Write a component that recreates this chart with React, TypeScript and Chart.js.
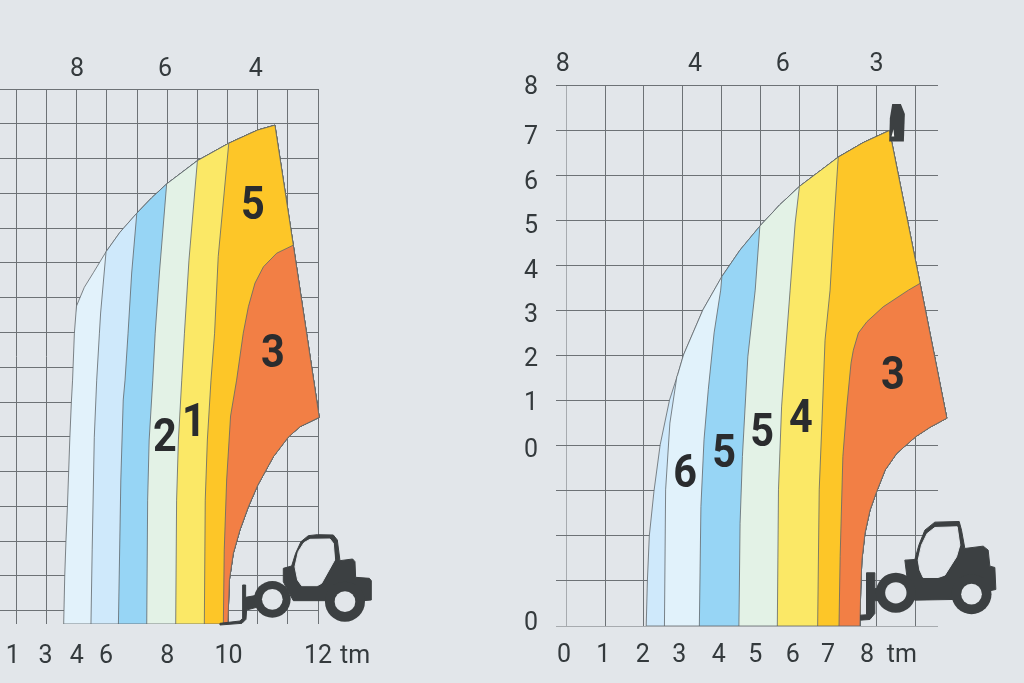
import React, { useEffect, useRef } from "react";
import { Chart, registerables } from "chart.js";

Chart.register(...registerables);

type P = [number, number];

const BG = "#e2e6ea";
const bandColorsLeft = ["#e2f2fb", "#cfe9fb", "#97d5f5", "#e3f2e6", "#fbe866", "#fdc628", "#f27f45"];
const bandColorsRight = ["#cfe9fb", "#e1f2fb", "#97d5f5", "#e3f2e6", "#fbe866", "#fdc628", "#f27f45"];

/* ---- left diagram, values in grid divisions ---- */
const leftEnvelope: P[] = [[1.565,-0.38],[1.6,1],[1.64,2],[1.69,3.01],[1.73,3.99],[1.77,4.99],[1.82,6],[1.86,6.63],[1.92,7.98],[1.99,8.76],[2.25,9.3],[2.55,9.72],[2.97,10.32],[3.43,10.88],[3.99,11.43],[4.48,11.87],[4.98,12.27],[6,12.94],[7.04,13.44],[8,13.82],[8.57,13.96]];
const leftRightEdge: P[] = [[9.18,10.51],[10.04,5.56]];
const leftLower: P[] = [[9.4,5.29],[9.01,4.99],[8.52,4.43],[8,3.61],[7.69,2.99],[7.41,2.32],[7.19,1.65],[7.06,0.88],[7.01,-0.38]];
const leftBoundaryA: P[] = [[2.47,-0.38],[2.51,1.75],[2.58,4.99],[2.66,6.63],[2.75,7.98],[2.79,8.56],[2.97,10.32]];
const leftBoundaryB: P[] = [[3.38,-0.38],[3.46,3.76],[3.54,6.06],[3.6,6.63],[3.7,7.98],[3.82,9.71],[3.99,11.43]];
const leftBoundaryC: P[] = [[4.32,-0.38],[4.35,3.18],[4.4,4.91],[4.52,6.63],[4.6,7.98],[4.74,9.71],[4.98,12.27]];
const leftBoundaryD: P[] = [[5.28,-0.38],[5.31,3.18],[5.37,4.91],[5.48,6.63],[5.57,7.98],[5.72,10.08],[6,12.94]];
const leftBoundaryE: P[] = [[6.23,-0.38],[6.26,3.18],[6.33,4.91],[6.45,6.63],[6.57,7.98],[6.69,10.18],[7.04,13.44]];
const leftBoundaryF: P[] = [[6.86,-0.38],[6.89,1.75],[6.97,3.76],[7.1,5.6],[7.3,6.63],[7.52,7.98],[7.69,8.74],[7.91,9.42],[8.19,9.89],[8.63,10.28],[9.18,10.51]];
const leftGridX = [0,1,2,3,4,5,6,7,8,9,10];
const leftGridY = [0,1,2,3,4,5,6,7,8,9,10,11,12,13,14,15];
const leftBottomTicks = [-0.12,0.96,2,2.97,5,7.03,10,11.23];
const leftBottomLabels = ["1","3","4","6","8","10","12","tm"];
const leftTopTicks = [2.01,4.93,7.94];
const leftTopLabels = ["8","6","4"];
const leftZoneLabels: [number, number, string][] = [[7.84,11.72,"5"],[8.5,7.44,"3"],[4.92,5.05,"2"],[5.88,5.48,"1"]];

/* ---- right diagram, values in grid divisions ---- */
const rightEnvelope: P[] = [[2.06,0],[2.09,1],[2.14,2],[2.26,2.99],[2.42,4.02],[2.66,5.01],[2.87,5.57],[3.02,6.01],[3.52,7.01],[4.01,7.75],[4.48,8.34],[4.99,8.87],[5.5,9.34],[6.01,9.75],[7.01,10.4],[7.65,10.72],[8.33,10.99]];
const rightRightEdge: P[] = [[9.12,7.6],[9.81,4.61]];
const rightLower: P[] = [[9.38,4.41],[9.01,4.2],[8.52,3.83],[8.22,3.46],[8,2.98],[7.83,2.57],[7.7,2.06],[7.62,1.46],[7.59,0.8],[7.57,0]];
const rightBoundaryA: P[] = [[2.53,0],[2.56,3.02],[2.67,4.5],[2.85,5.53],[2.87,5.57]];
const rightBoundaryB: P[] = [[3.43,0],[3.47,2.65],[3.55,4.13],[3.66,5.24],[3.81,6.5],[3.98,7.45],[4.01,7.75]];
const rightBoundaryC: P[] = [[4.45,0],[4.48,2.28],[4.54,3.76],[4.68,5.97],[4.87,7.45],[4.99,8.87]];
const rightBoundaryD: P[] = [[5.44,0],[5.47,3.02],[5.55,4.86],[5.64,5.97],[5.77,7.45],[5.9,8.94],[6.01,9.75]];
const rightBoundaryE: P[] = [[6.48,0],[6.52,3.02],[6.59,4.5],[6.67,6.34],[6.8,7.45],[6.9,8.94],[7.01,10.4]];
const rightBoundaryF: P[] = [[7.03,0],[7.06,1.54],[7.13,3.76],[7.23,4.86],[7.34,5.83],[7.4,6.12],[7.53,6.5],[7.75,6.75],[8.17,7.08],[8.82,7.45],[9.12,7.6]];
const rightGridX = [0,1,2,3,4,5,6,7,8,9];
const rightGridY = [0,1,2,3,4,5,6,7,8,9,10,11,12];
const rightBottomTicks = [-0.06,0.95,1.97,2.91,3.93,4.87,5.84,6.75,7.75,8.65];
const rightBottomLabels = ["0","1","2","3","4","5","6","7","8","tm"];
const rightTopTicks = [-0.09,3.32,5.58,8];
const rightTopLabels = ["8","4","6","3"];
const rightSideTicks = [12,10.9,9.9,8.92,7.92,6.94,5.97,4.99,3.95,0.11];
const rightSideLabels = ["8","7","6","5","4","3","2","1","0","0"];
const rightZoneLabels: [number, number, string][] = [[8.42,5.61,"3"],[6.05,4.64,"4"],[5.05,4.33,"5"],[4.07,3.88,"5"],[3.06,3.42,"6"]];

/* icons: outlines in local units, one unit = a third of a pixel */
const leftTruck = {
  at: [7.08, 2.61] as P,
  body: [[160,145],[185,138],[197,100],[213,65],[235,47],[262,44],[310,45],[322,60],[330,122],[368,117],[375,125],[377,172],[418,175],[424,182],[424,240],[400,242],[300,242],[190,242],[170,205],[160,185]] as P[],
  glass: [[205,95],[222,68],[240,58],[300,57],[310,70],[314,120],[275,190],[262,197],[215,197],[203,180],[195,140]] as P[],
  fork: [[38,195],[47,195],[47,232],[80,226],[80,262],[50,270],[48,298],[36,310],[-30,315],[-30,310],[30,303],[38,295]] as P[],
  wheels: [[127,238,55,31],[345,245,60,31]],
};
const rightTruck = {
  at: [7.31, 2.57] as P,
  body: [[165,150],[195,148],[207,105],[225,60],[255,36],[328,34],[335,60],[345,115],[400,108],[415,120],[420,168],[435,172],[438,238],[405,245],[310,268],[195,270],[175,230]] as P[],
  glass: [[205,150],[215,105],[232,70],[255,52],[322,50],[330,105],[320,140],[285,195],[265,202],[220,202],[210,180]] as P[],
  fork: [[50,188],[75,188],[75,235],[95,235],[95,270],[75,272],[75,310],[60,328],[32,330],[32,315],[50,314]] as P[],
  wheels: [[138,248,60,32],[365,252,60,31]],
};
const boomHead = {
  at: [4.99, 13] as P,
  body: [[397,192],[423,192],[435,222],[432,305],[388,305],[390,235]] as P[],
  notch: [[395,290],[401,268],[403,290]] as P[],
};

const TICK_FONT = { family: "Roboto, sans-serif", size: 25, weight: "400" as const };
const TICK_COLOR = "#343a3d";
const GRID_COLOR = "#6d7276";
const ICON_COLOR = "#3c4042";

function buildBands(env: P[], edge: P[], lower: P[], boundaries: P[][]): P[][] {
  const tip = env[env.length - 1];
  const outline: P[][] = [[...env, ...edge, ...lower]];
  for (const b of boundaries) {
    const top = b[b.length - 1];
    const restEnv = env.filter((p) => p[0] > top[0] + 0.001);
    const restEdge = top[1] > tip[1] - 0.001 || restEnv.length ? edge : edge.filter((p) => p[1] < top[1] - 0.001);
    outline.push([...b, ...restEnv, ...restEdge, ...lower]);
  }
  return outline;
}

function tracePoly(ctx: CanvasRenderingContext2D, pts: P[]) {
  ctx.beginPath();
  pts.forEach(([x, y], i) => (i ? ctx.lineTo(x / 3, y / 3) : ctx.moveTo(x / 3, y / 3)));
  ctx.closePath();
}

function fixedAxis(ticks: number[], labels: string[], position: string, padding: number, size: number, min: number, max: number, axis: string, labelOffset = 0) {
  return {
    axis, position, min, max,
    border: { display: false },
    grid: { display: false, drawTicks: false },
    ticks: {
      autoSkip: false, maxRotation: 0, minRotation: 0, padding, labelOffset,
      font: TICK_FONT, color: TICK_COLOR,
      callback: (_v: unknown, i: number) => labels[i],
    },
    afterBuildTicks: (s: any) => { s.ticks = ticks.map((value) => ({ value })); },
    afterFit: (s: any) => {
      if (axis === "x") s.height = size; else s.width = size;
      s.paddingLeft = s.paddingRight = s.paddingTop = s.paddingBottom = 0;
    },
  };
}

function gridAxis(ticks: number[], position: string, min: number, max: number, axis: string, baseline: boolean) {
  return {
    axis, position, min, max,
    border: { display: false },
    grid: {
      drawTicks: false, lineWidth: 1,
      color: (c: any) => (baseline && c.tick && c.tick.value === 0 ? "#a7abaf" : GRID_COLOR),
    },
    ticks: { display: false },
    afterBuildTicks: (s: any) => { s.ticks = ticks.map((value) => ({ value })); },
    afterFit: (s: any) => {
      if (axis === "x") s.height = 0; else s.width = 0;
      s.paddingLeft = s.paddingRight = s.paddingTop = s.paddingBottom = 0;
    },
  };
}

function overlayPlugin(gridEnd: number, zones: [number, number, string][], truck: typeof leftTruck, head?: typeof boomHead) {
  return {
    id: "overlay",
    beforeDatasetsDraw(chart: any) {
      const { ctx, chartArea: a, scales } = chart;
      const from = Math.round(scales.x.getPixelForValue(gridEnd)) + 1;
      ctx.save();
      ctx.fillStyle = BG;
      ctx.fillRect(from, a.top - 1, a.right - from + 2, a.bottom - a.top + 2);
      ctx.restore();
    },
    afterDatasetsDraw(chart: any) {
      const { ctx, scales } = chart;
      const px = (p: P) => [scales.x.getPixelForValue(p[0]), scales.y.getPixelForValue(p[1])];
      ctx.save();
      ctx.fillStyle = "#2a2c2e";
      ctx.font = "700 46px Roboto, sans-serif";
      ctx.textAlign = "center";
      ctx.textBaseline = "middle";
      for (const [x, y, t] of zones) {
        const [cx, cy] = px([x, y]);
        ctx.save();
        ctx.translate(cx, cy);
        ctx.scale(0.9, 1);
        ctx.fillText(t, 0, 4);
        ctx.restore();
      }
      ctx.restore();

      const [tx, ty] = px(truck.at);
      ctx.save();
      ctx.translate(tx, ty);
      ctx.fillStyle = ICON_COLOR;
      ctx.strokeStyle = ICON_COLOR;
      ctx.lineJoin = "round";
      ctx.lineWidth = 1;
      tracePoly(ctx, truck.body); ctx.fill(); ctx.stroke();
      tracePoly(ctx, truck.fork); ctx.fill(); ctx.stroke();
      for (const [x, y, r] of truck.wheels) {
        ctx.beginPath(); ctx.arc(x / 3, y / 3, r / 3, 0, Math.PI * 2); ctx.fill();
      }
      ctx.fillStyle = BG;
      ctx.strokeStyle = BG;
      tracePoly(ctx, truck.glass); ctx.fill(); ctx.stroke();
      for (const [x, y, , h] of truck.wheels) {
        ctx.beginPath(); ctx.arc(x / 3, y / 3, h / 3, 0, Math.PI * 2); ctx.fill();
      }
      ctx.restore();

      if (head) {
        const [hx, hy] = px(head.at);
        ctx.save();
        ctx.translate(hx, hy);
        ctx.fillStyle = ICON_COLOR;
        tracePoly(ctx, head.body); ctx.fill();
        ctx.fillStyle = "#f4f5f5";
        tracePoly(ctx, head.notch); ctx.fill();
        ctx.restore();
      }
    },
  };
}

function bandDatasets(polys: P[][], colors: string[]) {
  return polys.map((poly, i) => ({
    label: `zone ${i + 1}`,
    data: [...poly, poly[0]].map(([x, y]) => ({ x, y })),
    showLine: true,
    fill: "shape",
    backgroundColor: colors[i],
    borderColor: "#5f666a",
    borderWidth: 0.8,
    tension: 0,
    pointRadius: 0,
    order: polys.length - i,
  }));
}

export default function App() {
  const leftRef = useRef<HTMLCanvasElement>(null);
  const rightRef = useRef<HTMLCanvasElement>(null);

  useEffect(() => {
    const common = {
      responsive: false,
      animation: false,
      events: [],
    };
    const plugins = { legend: { display: false }, tooltip: { enabled: false } };

    const lx: [number, number] = [-0.547, 11.89];
    const left = new Chart(leftRef.current!, {
      type: "scatter",
      data: {
        datasets: bandDatasets(
          buildBands(leftEnvelope, leftRightEdge, leftLower, [leftBoundaryA, leftBoundaryB, leftBoundaryC, leftBoundaryD, leftBoundaryE, leftBoundaryF]),
          bandColorsLeft
        ) as any,
      },
      options: {
        ...common,
        plugins,
        layout: { autoPadding: false, padding: { left: 0, right: 649, top: 49, bottom: 14 } },
        scales: {
          x: gridAxis(leftGridX, "bottom", lx[0], lx[1], "x", false),
          y: gridAxis(leftGridY, "left", -0.38, 15, "y", false),
          xBottom: fixedAxis(leftBottomTicks, leftBottomLabels, "bottom", 18, 45, lx[0], lx[1], "x"),
          xTop: fixedAxis(leftTopTicks, leftTopLabels, "top", 4, 40, lx[0], lx[1], "x"),
        },
      } as any,
      plugins: [overlayPlugin(10, leftZoneLabels, leftTruck)],
    });

    const rx: [number, number] = [-0.266, 10.15];
    const right = new Chart(rightRef.current!, {
      type: "scatter",
      data: {
        datasets: bandDatasets(
          buildBands(rightEnvelope, rightRightEdge, rightLower, [rightBoundaryA, rightBoundaryB, rightBoundaryC, rightBoundaryD, rightBoundaryE, rightBoundaryF]),
          bandColorsRight
        ) as any,
      },
      options: {
        ...common,
        plugins,
        layout: { autoPadding: false, padding: { left: 506, right: 64, top: 45, bottom: 12 } },
        scales: {
          x: gridAxis(rightGridX, "bottom", rx[0], rx[1], "x", true),
          y: gridAxis(rightGridY, "left", 0, 12, "y", true),
          xBottom: fixedAxis(rightBottomTicks, rightBottomLabels, "bottom", 15, 45, rx[0], rx[1], "x"),
          xTop: fixedAxis(rightTopTicks, rightTopLabels, "top", 5, 40, rx[0], rx[1], "x"),
          ySide: fixedAxis(rightSideTicks, rightSideLabels, "left", 18, 50, 0, 12, "y", 3),
        },
      } as any,
      plugins: [overlayPlugin(9.56, rightZoneLabels, rightTruck, boomHead)],
    });

    return () => {
      left.destroy();
      right.destroy();
    };
  }, []);

  const canvasStyle: React.CSSProperties = { position: "absolute", left: 0, top: 0, display: "block" };
  return (
    <div style={{ position: "fixed", left: 0, top: 0, width: 1024, height: 683, background: BG, overflow: "hidden" }}>
      <canvas ref={leftRef} width={1024} height={683} style={canvasStyle} />
      <canvas ref={rightRef} width={1024} height={683} style={canvasStyle} />
    </div>
  );
}
